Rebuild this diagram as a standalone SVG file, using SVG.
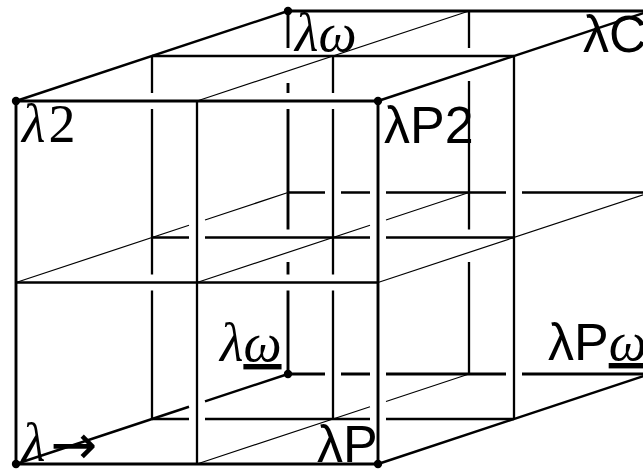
<svg xmlns="http://www.w3.org/2000/svg" width="643" height="471" viewBox="0 0 643 471">
<style>
.e{stroke:#000;stroke-width:2.9;fill:none}
.m{stroke:#000;stroke-width:2.3;fill:none}
.de{stroke:#000;stroke-width:2.4;fill:none}
.t{stroke:#000;stroke-width:1.2;fill:none}
.dot{fill:#000}
.sr{font-family:"Liberation Serif","DejaVu Serif",serif;font-size:54px;fill:#000}
.it{font-style:italic}
.ss{font-family:"Liberation Sans","DejaVu Sans",sans-serif;font-size:52px;fill:#000}
.ar{font-family:"DejaVu Sans",sans-serif;font-style:normal;font-size:56px}
</style>
<rect width="643" height="471" fill="#fff"/>
<g id="connectors">
<path class="e" d="M288 11H650"/>
<path class="m" d="M288 192.5H325M341 192.5H370M386 192.5H506M522 192.5H650"/>
<path class="e" d="M288 374H325M341 374H370M386 374H506M522 374H650"/>
<path class="e" d="M288 11V48M288 83V93M288 109V229.5M288 262V274.5M288 290.5V374"/>
<path class="m" d="M469 11V48M469 81V229.5M469 262V374"/>
<path class="m" d="M152 56H514"/>
<path class="m" d="M152 237.5H189M205 237.5H370M386 237.5H514"/>
<path class="m" d="M152 419H189M205 419H370M386 419H514"/>
<path class="m" d="M152 56V93M152 109V274.5M152 290.5V419"/>
<path class="m" d="M333 56V93M333 109V274.5M333 290.5V419"/>
<path class="m" d="M514 56V419"/>
<path class="de" d="M16 101L288 11"/>
<path class="t" d="M197 101L469 11"/>
<path class="de" d="M378 101L650 11"/>
<path class="t" d="M16 282.5L189 225.25M205 219.96L288 192.5"/>
<path class="t" d="M197 282.5L370 225.25M386 219.96L469 192.5"/>
<path class="t" d="M378 282.5L650 192.5"/>
<path class="de" d="M16 464L189 406.75M205 401.46L288 374"/>
<path class="t" d="M197 464L370 406.75M386 401.46L469 374"/>
<path class="de" d="M378 464L650 374"/>
<path class="e" d="M16 101H378"/>
<path class="m" d="M16 282.5H378"/>
<path class="e" d="M16 464H378"/>
<path class="e" d="M16 101V464"/>
<path class="m" d="M197 101V464"/>
<path class="e" d="M378 101V464"/>
</g>
<g id="n-l2"><circle class="dot" cx="16" cy="101" r="4.2"/><text class="sr" x="22" y="142"><tspan class="it">λ</tspan><tspan dx="3">2</tspan></text></g>
<g id="n-lw"><circle class="dot" cx="288" cy="11" r="4.2"/><text class="sr it" x="295" y="51">λω</text></g>
<g id="n-lC"><text class="ss" x="583" y="52">λC</text></g>
<g id="n-lP2"><circle class="dot" cx="378" cy="101" r="4.2"/><text class="ss" x="384" y="143">λP2</text></g>
<g id="n-lto"><circle class="dot" cx="16" cy="464" r="4.2"/><text class="sr" x="22" y="461"><tspan class="it">λ</tspan><tspan class="ar" dx="5" dy="3">→</tspan></text></g>
<g id="n-lP"><circle class="dot" cx="378" cy="464" r="4.2"/><text class="ss" x="317" y="462">λP</text></g>
<g id="n-lwu"><circle class="dot" cx="288" cy="374" r="4.2"/><text class="sr it" x="220" y="361">λ<tspan text-decoration="underline">ω</tspan></text></g>
<g id="n-lPwu"><text x="548" y="360"><tspan class="ss">λP</tspan><tspan class="sr it" text-decoration="underline">ω</tspan></text></g>
</svg>
